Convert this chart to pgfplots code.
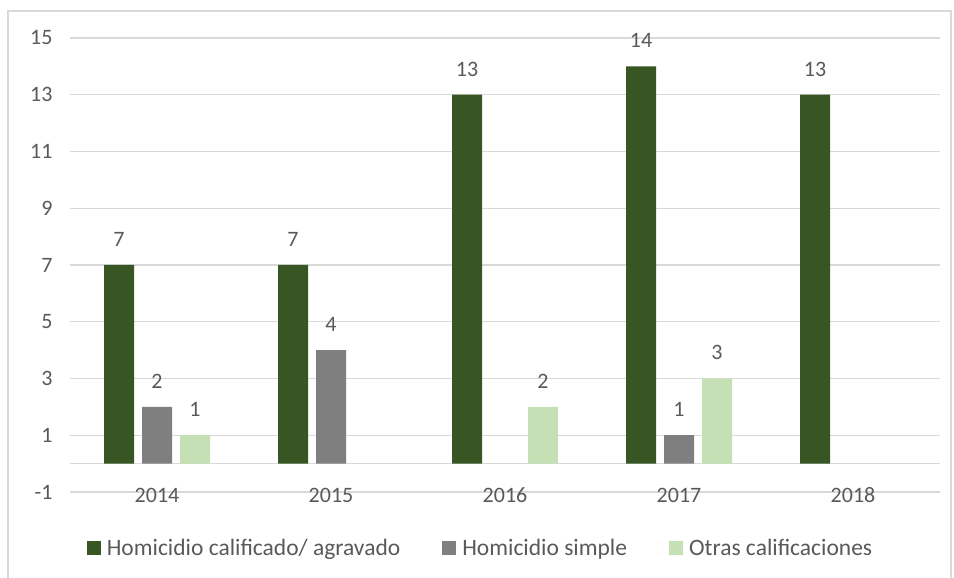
\documentclass[border=0pt]{standalone}
\usepackage{pgfplots}
\pgfplotsset{compat=1.18}
\usepackage{fontspec}
\setmainfont{Carlito}
\definecolor{dgreen}{HTML}{375623}
\definecolor{mgray}{HTML}{7F7F7F}
\definecolor{lgreen}{HTML}{C5E0B4}
\definecolor{txt}{HTML}{595959}
\definecolor{gridc}{HTML}{D9D9D9}
\newcommand{\cf}{\fontsize{22bp}{26bp}\selectfont}
\newcommand{\lf}{\fontsize{23.5bp}{27bp}\selectfont}
\begin{document}
\begin{tikzpicture}[x=1bp,y=1bp]
\path[use as bounding box] (0,0) rectangle (954,578);
\draw[gridc, line width=1.5bp] (8,567) rectangle (951,-5);
\begin{axis}[
  at={(70bp,86bp)}, anchor=south west,
  width=870bp, height=454bp, scale only axis,
  xmin=-0.5, xmax=4.5, ymin=-1, ymax=15,
  ytick={-1,1,...,15},
  xtick={0,1,2,3,4}, xticklabels={2014,2015,2016,2017,2018},
  /pgf/number format/assume math mode=true,
  ymajorgrids, major grid style={gridc, line width=1.2bp},
  extra y ticks={0}, extra y tick labels={},
  extra y tick style={grid=major, major grid style={gridc, line width=1.2bp}},
  axis line style={draw=none}, tick style={draw=none},
  tick label style={font=\cf, text=txt},
  yticklabel style={xshift=-14bp},
  xticklabel style={anchor=base, yshift=-6.5bp},
  ybar=8bp, bar width=30bp,
  nodes near coords,
  every node near coord/.append style={font=\cf, text=txt, yshift=15bp},
  legend columns=3,
  legend style={draw=none, fill=none, font=\lf, text=txt,
    at={(0.4707,-0.1244)}, anchor=center,
    nodes={inner sep=0pt},
    /tikz/every odd column/.append style={column sep=6bp},
    /tikz/every even column/.append style={column sep=42bp}},
  legend image code/.code={\fill[#1] (0bp,-6.5bp) rectangle (14bp,7bp);},
]
\addplot[fill=dgreen, draw=none] coordinates {(0,7) (1,7) (2,13) (3,14) (4,13)};
\addplot[fill=mgray, draw=none] coordinates {(0,2) (1,4) (3,1)};
\addplot[fill=lgreen, draw=none] coordinates {(0,1) (2,2) (3,3)};
\legend{Homicidio calificado/ agravado, Homicidio simple, Otras calificaciones}
\end{axis}
\end{tikzpicture}
\end{document}
